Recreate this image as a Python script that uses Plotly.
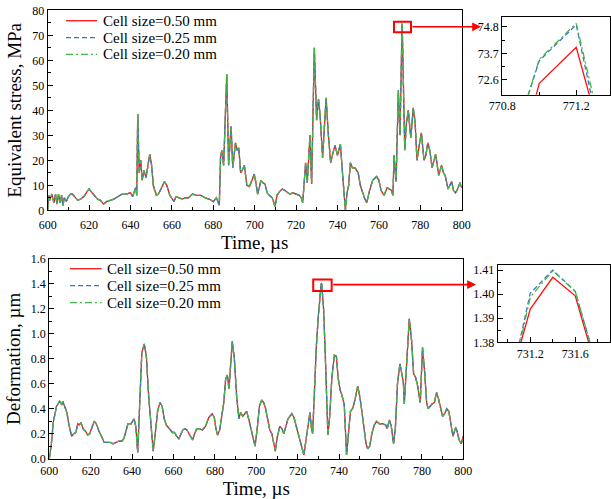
import plotly.graph_objects as go

W, H = 611, 499
FONT = "Liberation Serif, Times New Roman, serif"

series_names = ["Cell size=0.50 mm", "Cell size=0.25 mm", "Cell size=0.20 mm"]
series_colors = ["#ff1010", "#3b75c4", "#44b844"]
series_dashes = ["solid", "5px,3px", "7px,3px,2px,3px"]

# Equivalent stress (MPa) vs time (µs); the three meshes coincide at this scale
stress_time = [
    600, 600.5, 601, 602, 603, 603.8, 604.5, 605.2, 606, 606.7, 607.4, 608, 609, 610,
    611, 612, 613, 614.5, 616, 617.5, 619, 620, 621, 622.5, 624, 625.5, 627, 628.5,
    630, 632, 634, 636, 638, 640, 641, 642.5, 643, 643.5, 644.2, 645, 645.6, 646.5,
    647.5, 649.3, 650.2, 651, 652.5, 653.5, 655, 656.4, 657.5, 659, 661, 662, 663.5,
    665, 666.5, 668, 670, 672, 674, 676, 678, 680, 681.5, 682.9, 683.5, 684.1, 685,
    686.5, 687.4, 688.6, 689.4, 690.7, 691.5, 692.3, 693.2, 694, 695, 696.2, 697.5,
    698.5, 699.8, 700.6, 701.4, 702.2, 703, 704, 705, 706, 707, 708.5, 709.8, 710.8,
    712, 713.3, 714.5, 716, 717, 718.5, 720, 721.5, 722.5, 723.2, 724.6, 725.4,
    726.7, 727.5, 728.8, 729.9, 730.8, 731.6, 732.8, 734.5, 735.6, 736.7, 737.5,
    738.8, 740, 741.4, 742.5, 743.8, 744.6, 745.4, 746.2, 747.2, 748.5, 750, 751,
    752, 753, 754.1, 755.5, 757, 758.9, 760, 761, 762.5, 764, 765, 766, 766.8, 767.3,
    768.3, 769.4, 770.2, 772.5, 773.3, 774.2, 775.4, 776.6, 777.5, 778.4, 779.3,
    780.5, 781.8, 782.7, 783.6, 784.6, 785.7, 787.4, 788.9, 790.3, 791.2, 792, 793.4,
    794.3, 795.2, 796, 797, 798, 799.2, 800,
]
stress_value = [
    0, 6, 4, 6.5, 3, 6.5, 2.5, 6.5, 3, 6, 2, 5, 3.5, 5.5,
    6.5, 6.5, 5.5, 4, 4.5, 5.5, 7.5, 8.5, 7.5, 6, 4.5, 4, 2.5, 3.5,
    4, 4.5, 5.5, 6.5, 6.5, 7, 5.5, 9, 6, 38.5, 15, 20, 12, 16,
    13, 22.5, 18, 10, 6, 6.5, 9, 11.5, 10, 6, 3.5, 5.5, 5,
    4.5, 5, 5, 6.5, 6, 6, 5, 4.5, 3.5, 5, 2, 21, 24, 18,
    54.5, 18, 33.5, 17, 27, 24, 25, 15, 16, 18, 10, 9.5,
    11.5, 14.5, 11, 6.5, 9, 12, 11, 10.5, 7, 6, 5, 1.5, 6,
    7.5, 8.5, 8, 7, 6.5, 7, 6.5, 6, 5, 3, 19, 11,
    30, 10.5, 65, 36, 44.5, 38, 21, 45, 30, 19, 22,
    26, 22, 26.5, 14, 0, 7, 10, 19, 17, 17, 15, 10,
    7, 5, 3, 8, 12, 13.5, 12, 8, 6, 9, 8.5, 8, 6, 22,
    11.5, 48, 30, 24, 35, 40, 29, 41, 35, 20, 25,
    31, 20, 22, 27, 24, 17, 22.5, 14, 18, 15, 14, 8.5,
    10, 11.5, 8, 7, 8.5, 11, 9,
]
stress_peak_time = [770.8, 771.0, 771.2, 771.4]
stress_peak = [
    [66.7, 72.46, 73.95, 68.4],   # 0.50 mm
    [68.6, 73.40, 74.88, 67.7],   # 0.25 mm
    [68.6, 73.45, 74.94, 68.4],   # 0.20 mm
]

# Deformation (µm) vs time (µs)
deform_time = [
    600, 601, 602, 603.5, 605, 606, 606.5, 607.5, 608.5, 609.5, 610.8, 611.8, 612.8,
    613.8, 614.5, 615.3, 616.3, 617.5, 618.5, 619.5, 620.5, 621.7, 622.7, 624, 625.5,
    626.5, 628, 629.5, 630.8, 632, 633.5, 635, 636, 637, 638, 639.5, 640.9, 641.8,
    642.7, 643.7, 644.7, 645.9, 646.9, 648, 649, 650.2, 651.2, 652.3, 653.5, 654.5,
    655.5, 656.5, 657.5, 658.5, 659.5, 660.5, 661.5, 662.6, 663.6, 664.5, 665.5,
    666.5, 667.5, 668.5, 669.2, 670.2, 671.2, 672.5, 674, 675.5, 677, 678.7, 679.7,
    680.5, 681.3, 682.3, 683.3, 684.3, 685.2, 686, 686.8, 687.5, 688.4, 689.4, 690.5,
    691.6, 692.4, 693.5, 694.5, 695.3, 696.3, 697.3, 698.3, 699.4, 700.5, 701.5,
    702.6, 703.6, 704.5, 705.5, 706.5, 707.5, 708.3, 709.2, 710.2, 711.4, 712.4,
    713.3, 714.3, 715.3, 717.2, 718.2, 719.3, 720.3, 721.3, 722.3, 723, 724, 725,
    725.9, 726.6, 727.2, 728, 729, 730, 732.5, 733.3, 734, 734.6, 735.5, 736.5,
    737.7, 738.7, 739.5, 740.5, 741.5, 742.5, 743.6, 744.6, 745.5, 746.5, 747.5,
    749, 750, 751, 752, 753, 753.8, 754.8, 755.8, 757, 758.1, 759.5, 761, 762.5,
    763.2, 764.3, 765.2, 766.3, 767.2, 768.2, 769.4, 770.3, 771, 771.5, 772.5,
    773.9, 775, 776, 777, 778, 779.2, 780.3, 781.3, 782.3, 783, 784, 785, 786,
    787.1, 788, 789, 790, 791, 792, 793, 794, 795, 796.3, 797, 798, 799, 800,
]
deform_value = [
    0, 0.12, 0.3, 0.42, 0.46, 0.43, 0.46, 0.42, 0.37, 0.27, 0.18, 0.2, 0.21,
    0.28, 0.27, 0.29, 0.24, 0.22, 0.19, 0.2, 0.24, 0.30, 0.28, 0.22, 0.17,
    0.13, 0.13, 0.13, 0.12, 0.13, 0.14, 0.14, 0.16, 0.22, 0.28, 0.28, 0.32, 0.26,
    0.05, 0.45, 0.85, 0.92, 0.82, 0.5, 0.28, 0.06, 0.2, 0.38, 0.45, 0.42,
    0.32, 0.27, 0.25, 0.23, 0.21, 0.21, 0.18, 0.16, 0.2, 0.23, 0.24,
    0.23, 0.2, 0.17, 0.15, 0.2, 0.24, 0.24, 0.23, 0.26, 0.33, 0.36, 0.33,
    0.24, 0.19, 0.23, 0.35, 0.45, 0.64, 0.67, 0.56, 0.75, 0.94, 0.8, 0.5,
    0.32, 0.37, 0.34, 0.36, 0.38, 0.32, 0.24, 0.18, 0.1, 0.25, 0.42,
    0.47, 0.45, 0.4, 0.3, 0.23, 0.2, 0.14, 0.06, 0.18, 0.26, 0.24,
    0.2, 0.26, 0.32, 0.36, 0.33, 0.26, 0.2, 0.13, 0.08, 0.03, 0.15, 0.25,
    0.37, 0.25, 0.2, 0.5, 0.9, 1.15, 1.2, 0.85, 0.45, 0.19, 0.35, 0.65,
    0.83, 0.82, 0.65, 0.55, 0.5, 0.43, 0.03, 0.2, 0.38, 0.4, 0.46,
    0.58, 0.5, 0.38, 0.25, 0.12, 0.08, 0.1, 0.2, 0.27, 0.3, 0.28, 0.28, 0.27,
    0.24, 0.31, 0.26, 0.12, 0.25, 0.6, 0.76, 0.66, 0.62, 0.44, 0.75,
    1.12, 0.95, 0.68, 0.65, 0.58, 0.45, 0.89, 0.7, 0.45, 0.4, 0.42, 0.44, 0.45,
    0.53, 0.48, 0.4, 0.34, 0.36, 0.4, 0.38, 0.28, 0.18, 0.25, 0.22, 0.15, 0.12, 0.18,
]
deform_peak_time = [731.0, 731.2, 731.4, 731.6, 731.8]
deform_peak = [
    [1.3606, 1.3938, 1.4070, 1.3993, 1.3670],   # 0.50 mm
    [1.3580, 1.4004, 1.4100, 1.4012, 1.3686],   # 0.25 mm
    [1.3570, 1.3988, 1.4097, 1.4011, 1.3690],   # 0.20 mm
]


def merge(t, v, wt, wv):
    """Insert the fine-step window values into the coarse curve."""
    pts = [(a, b) for a, b in zip(t, v) if a < wt[0] or a > wt[-1]]
    pts += list(zip(wt, wv))
    pts.sort()
    return [p[0] for p in pts], [p[1] for p in pts]


def px(x):
    return x / W


def py(y):
    return 1 - y / H


fig = go.Figure()

for i, name in enumerate(series_names):
    st, sv = merge(stress_time, stress_value, stress_peak_time, stress_peak[i])
    dt, dv = merge(deform_time, deform_value, deform_peak_time, deform_peak[i])
    line = dict(color=series_colors[i], width=1.3, dash=series_dashes[i])
    for xa, ya, tx, vy in (("x", "y", st, sv), ("x3", "y3", st, sv),
                           ("x2", "y2", dt, dv), ("x4", "y4", dt, dv)):
        fig.add_trace(go.Scatter(x=tx, y=vy, mode="lines", name=name, line=line,
                                 xaxis=xa, yaxis=ya, showlegend=False,
                                 hoverinfo="skip"))


def axis_style(**kw):
    base = dict(showline=True, mirror=True, linecolor="black", linewidth=1.3,
                showgrid=False, zeroline=False, ticks="inside", ticklen=5,
                tickwidth=1.2, tickcolor="black", automargin=False,
                tickfont=dict(family=FONT, size=12, color="black"))
    base.update(kw)
    return base


title_font = dict(family=FONT, size=19, color="black")
inset_font = dict(family=FONT, size=12, color="black")

fig.update_layout(
    width=W, height=H,
    margin=dict(l=0, r=0, t=0, b=0),
    paper_bgcolor="white", plot_bgcolor="white",
    font=dict(family=FONT, color="black"),
    # main stress panel
    xaxis=axis_style(domain=[px(47.7), px(461.7)], range=[600, 800], dtick=20, tick0=600,
                     minor=dict(ticks="inside", ticklen=3, dtick=10, tick0=600, tickcolor="black"),
                     ticklabelstandoff=3,
                     title=dict(text="Time, µs", font=title_font, standoff=1),
                     anchor="y"),
    yaxis=axis_style(domain=[py(210.3), py(10.3)], range=[0, 80], dtick=10,
                     minor=dict(ticks="inside", ticklen=3, dtick=5, tickcolor="black"),
                     title=dict(text="Equivalent stress, MPa", font=title_font, standoff=5),
                     anchor="x"),
    # main deformation panel
    xaxis2=axis_style(domain=[px(49.3), px(463.3)], range=[600, 800], dtick=20, tick0=600,
                      minor=dict(ticks="inside", ticklen=3, dtick=10, tick0=600, tickcolor="black"),
                      ticklabelstandoff=1,
                      title=dict(text="Time, µs", font=title_font, standoff=4),
                      anchor="y2"),
    yaxis2=axis_style(domain=[py(458.7), py(259)], range=[0, 1.6], dtick=0.2,
                      tickformat=".1f",
                      minor=dict(ticks="inside", ticklen=3, dtick=0.1, tickcolor="black"),
                      title=dict(text="Deformation, µm", font=title_font, standoff=5),
                      anchor="x2"),
    # stress peak inset
    xaxis3=axis_style(domain=[px(502.3), px(609.5)], range=[770.8, 771.38],
                      tickvals=[770.8, 771.2], ticktext=["770.8", "771.2"],
                      minor=dict(ticks="inside", ticklen=3, tickvals=[771.0], tickcolor="black"),
                      tickfont=inset_font, linewidth=1.2, anchor="y3"),
    yaxis3=axis_style(domain=[py(94.7), py(17.3)], range=[71.99, 75.19],
                      tickvals=[72.6, 73.7, 74.8], ticktext=["72.6", "73.7", "74.8"],
                      minor=dict(ticks="inside", ticklen=3, tickvals=[73.15, 74.25], tickcolor="black"),
                      tickfont=inset_font, linewidth=1.2, anchor="x3"),
    # deformation peak inset
    xaxis4=axis_style(domain=[px(497.7), px(609.5)], range=[730.91, 731.905],
                      tickvals=[731.2, 731.6], ticktext=["731.2", "731.6"],
                      minor=dict(ticks="inside", ticklen=3, tickvals=[731.0, 731.4, 731.8],
                                 tickcolor="black"),
                      tickfont=inset_font, linewidth=1.2, anchor="y4"),
    yaxis4=axis_style(domain=[py(342.3), py(265)], range=[1.38, 1.4121],
                      tickvals=[1.38, 1.39, 1.40, 1.41],
                      ticktext=["1.38", "1.39", "1.40", "1.41"],
                      minor=dict(ticks="inside", ticklen=3,
                                 tickvals=[1.385, 1.395, 1.405], tickcolor="black"),
                      tickfont=inset_font, linewidth=1.2, anchor="x4"),
)

shapes = []
annotations = []

# legend keys drawn inside each main panel
for rows, x0, x1, xt in (((20.7, 37.7, 54.3), 66, 97, 101),
                         ((268.7, 285.7, 302.7), 70, 101.7, 105)):
    for i, yy in enumerate(rows):
        shapes.append(dict(type="line", xref="paper", yref="paper",
                           x0=px(x0), x1=px(x1), y0=py(yy), y1=py(yy),
                           line=dict(color=series_colors[i], width=1.3,
                                     dash=series_dashes[i])))
        annotations.append(dict(xref="paper", yref="paper", x=px(xt), y=py(yy),
                                xanchor="left", yanchor="middle", showarrow=False,
                                text=series_names[i],
                                font=dict(family=FONT, size=15, color="black")))

# boxes marking the magnified regions
shapes.append(dict(type="rect", xref="x", yref="y", x0=767.3, x1=775.5, y0=71.2, y1=75.4,
                   line=dict(color="#ff0000", width=2)))
shapes.append(dict(type="rect", xref="x2", yref="y2", x0=727.5, x1=736.4, y0=1.344, y1=1.435,
                   line=dict(color="#ff0000", width=2)))

# arrows pointing to the insets
for tail_x, tip_x, yy in ((411, 481, 26.8), (331.7, 476, 284.6)):
    annotations.append(dict(xref="paper", yref="paper", x=px(tip_x), y=py(yy),
                            ax=tail_x - tip_x, ay=0, text="", showarrow=True,
                            arrowhead=2, arrowsize=1.1, arrowwidth=1.6,
                            arrowcolor="#ff0000", standoff=0, startstandoff=0))

fig.update_layout(shapes=shapes, annotations=annotations)

fig.write_html("out.html")
